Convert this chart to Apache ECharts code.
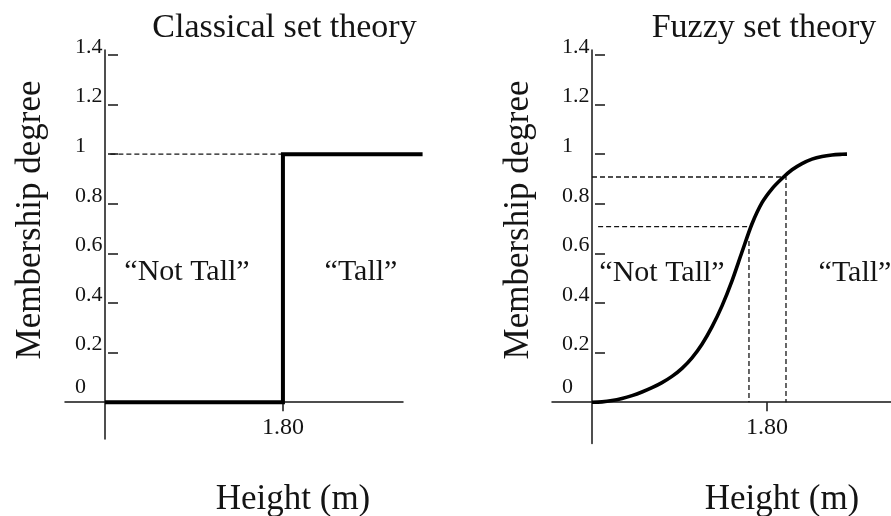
<!DOCTYPE html>
<html>
<head>
<meta charset="utf-8">
<script src="https://cdn.jsdelivr.net/npm/echarts@6/dist/echarts.min.js"></script>
<style>
html,body{margin:0;padding:0;background:#fff;}
#chart{width:891px;height:516px;}
</style>
</head>
<body>
<div id="chart"></div>
<script>
// ---- data ----
const yTickValues = [0.2, 0.4, 0.6, 0.8, 1, 1.2, 1.4];
const yLabelValues = [0, 0.2, 0.4, 0.6, 0.8, 1, 1.2, 1.4];
const xTickValues = [1.80];
const xTickLabels = ['1.80'];

// Classical (crisp) membership: step at 1.80 m
const crispX = [1.60, 1.80, 1.80, 1.957];
const crispY = [0, 0, 1, 1];
const crispGuideX = [1.606, 1.80];
const crispGuideY = [1, 1];

// Fuzzy membership curve
const fuzzyX = [1.6000, 1.6114, 1.6229, 1.6343, 1.6457, 1.6571, 1.6686, 1.6800, 1.6914, 1.7029, 1.7143, 1.7257, 1.7371, 1.7486, 1.7600, 1.7714, 1.7829, 1.7943, 1.8057, 1.8171, 1.8286, 1.8400, 1.8514, 1.8629, 1.8743, 1.8857, 1.8914];
const fuzzyY = [0, 0.0015, 0.0065, 0.015, 0.0265, 0.041, 0.0585, 0.079, 0.104, 0.1365, 0.179, 0.234, 0.3035, 0.3885, 0.4895, 0.6055, 0.7195, 0.8045, 0.8605, 0.902, 0.937, 0.962, 0.980, 0.991, 0.997, 0.9995, 1.0];
const guideHighX = [1.60, 1.8217, 1.8217];
const guideHighY = [0.908, 0.908, 0];
const guideLowX = [1.607, 1.7794];
const guideLowY = [0.708, 0.708];
const guideLowVX = [1.7794, 1.7794];
const guideLowVY = [0.65, 0];

const zip = (xs, ys) => xs.map((x, i) => [x, ys[i]]);

// ---- layout ----
const FONT = '"Liberation Serif", "Times New Roman", serif';
const INK = '#141414';
const XPX = 889.5; // px per metre in left panel
const grids = [
  {left: 65, top: 50, width: 338, height: 388.9, xmin: 1.555, xmax: 1.935, ymin: -0.148, axes: true},
  {left: 552, top: 50, width: 339, height: 393.5, xmin: 1.5543, xmax: 1.9417, ymin: -0.1665, axes: true},
  // overlay panel sharing the left scales, wide enough for the step's tail
  {left: 65, top: 50, width: (1.96 - 1.555) * XPX, height: 388.9, xmin: 1.555, xmax: 1.96, ymin: -0.148, axes: false}
];
const yOrigin = 1.60;
const ymax = 1.42;
const labelMid = 428; // wanted centre of the x tick label

const xAxes = [], yAxes = [];
grids.forEach((g, gi) => {
  const bottom = g.top + g.height;
  xAxes.push({
    type: 'value', gridIndex: gi, min: g.xmin, max: g.xmax, show: g.axes,
    axisLine: {show: true, onZero: true, lineStyle: {color: INK, width: 1.5}},
    axisTick: {show: true, customValues: xTickValues, length: 9, lineStyle: {color: INK, width: 1.5}},
    axisLabel: {show: true, customValues: xTickValues, formatter: v => xTickLabels[xTickValues.indexOf(v)] || '',
      fontFamily: FONT, fontSize: 24, color: INK, margin: labelMid - bottom, verticalAlign: 'middle'},
    splitLine: {show: false}
  });
  const off = -(yOrigin - g.xmin) / (g.xmax - g.xmin) * g.width;
  yAxes.push({
    type: 'value', gridIndex: gi, min: g.ymin, max: ymax, position: 'left', offset: off, show: g.axes,
    axisLine: {show: true, onZero: false, lineStyle: {color: INK, width: 1.5}},
    axisTick: {show: false},
    axisLabel: {show: true, customValues: yLabelValues, align: 'left', margin: 30,
      fontFamily: FONT, fontSize: 22, color: INK, verticalAlign: 'middle',
      formatter: v => v === 0 ? '{z|0}' : '{n|' + v + '}',
      rich: {n: {fontFamily: FONT, fontSize: 22, color: INK, padding: [0, 0, 16, 0]},
             z: {fontFamily: FONT, fontSize: 22, color: INK, padding: [0, 0, 30, 0]}}},
    splitLine: {show: false}
  });
  yAxes.push({
    type: 'value', gridIndex: gi, min: g.ymin, max: ymax, position: 'left', offset: off - 3, show: g.axes,
    axisLine: {show: false, onZero: false},
    axisTick: {show: true, inside: true, length: 10, customValues: yTickValues, lineStyle: {color: INK, width: 1.5}},
    axisLabel: {show: false},
    splitLine: {show: false}
  });
});

const dashed = {color: INK, width: 1.3, type: [5, 3]};
const series = [
  {type: 'line', xAxisIndex: 0, yAxisIndex: 0, data: zip(crispGuideX, crispGuideY), symbol: 'none', lineStyle: dashed, z: 2},
  {type: 'line', xAxisIndex: 2, yAxisIndex: 4, data: zip(crispX, crispY), symbol: 'none', clip: false, lineStyle: {color: '#000', width: 4, join: 'miter', cap: 'butt'}, z: 3},
  {type: 'line', xAxisIndex: 1, yAxisIndex: 2, data: zip(guideHighX, guideHighY), symbol: 'none', lineStyle: dashed, z: 2},
  {type: 'line', xAxisIndex: 1, yAxisIndex: 2, data: zip(guideLowX, guideLowY), symbol: 'none', lineStyle: dashed, z: 2},
  {type: 'line', xAxisIndex: 1, yAxisIndex: 2, data: zip(guideLowVX, guideLowVY), symbol: 'none', lineStyle: dashed, z: 2},
  {type: 'line', xAxisIndex: 1, yAxisIndex: 2, data: zip(fuzzyX, fuzzyY), symbol: 'none', smooth: 0.3, clip: false, lineStyle: {color: '#000', width: 3.6, join: 'round'}, z: 3}
];

function txt(text, x, y, size, rot) {
  return {type: 'text', x: x, y: y, rotation: rot || 0, z: 10,
    style: {text: text, fontFamily: FONT, fontSize: size, fill: INK, align: 'center', verticalAlign: 'middle'}};
}
const graphic = [
  txt('Classical set theory', 284.5, 28, 34),
  txt('Fuzzy set theory', 764, 28, 34),
  txt('Membership degree', 31, 220, 35, Math.PI / 2),
  txt('Membership degree', 519, 220, 35, Math.PI / 2),
  txt('Height (m)', 293, 500, 35),
  txt('Height (m)', 782, 500, 35),
  txt('\u201CNot Tall\u201D', 187, 272, 30),
  txt('\u201CTall\u201D', 361, 272, 30),
  txt('\u201CNot Tall\u201D', 662, 273, 30),
  txt('\u201CTall\u201D', 855, 273, 30)
];

const chart = echarts.init(document.getElementById('chart'), null, {renderer: 'canvas'});
chart.setOption({
  animation: false,
  backgroundColor: '#fff',
  grid: grids.map(g => ({left: g.left, top: g.top, width: g.width, height: g.height, containLabel: false})),
  xAxis: xAxes,
  yAxis: yAxes,
  series: series,
  graphic: graphic
});
</script>
</body>
</html>
